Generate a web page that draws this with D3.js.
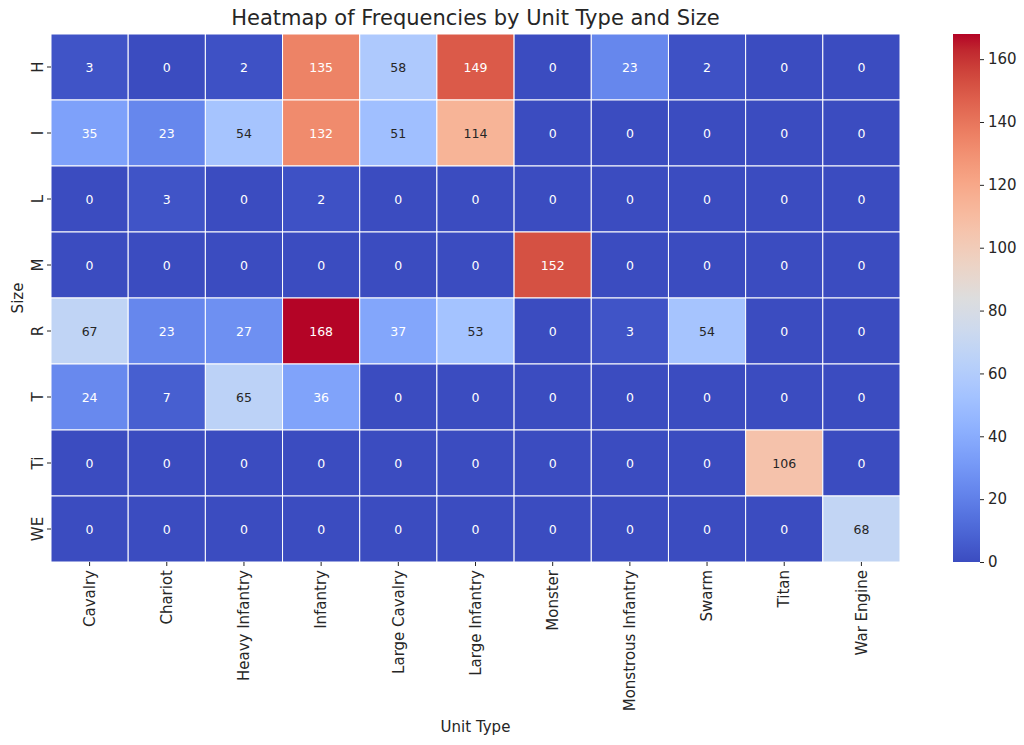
<!DOCTYPE html>
<html>
<head>
<meta charset="utf-8">
<script src="https://cdn.jsdelivr.net/npm/d3@7"></script>
<style>
  body { margin: 0; background: #fff; }
  svg text { font-family: "DejaVu Sans", sans-serif; fill: #262626; }
</style>
</head>
<body>
<svg id="chart" width="1024" height="745"></svg>
<script>
// data
const unitTypes = ["Cavalry", "Chariot", "Heavy Infantry", "Infantry", "Large Cavalry",
  "Large Infantry", "Monster", "Monstrous Infantry", "Swarm", "Titan", "War Engine"];
const sizes = ["H", "I", "L", "M", "R", "T", "Ti", "WE"];

const rowH  = [3, 0, 2, 135, 58, 149, 0, 23, 2, 0, 0];
const rowI  = [35, 23, 54, 132, 51, 114, 0, 0, 0, 0, 0];
const rowL  = [0, 3, 0, 2, 0, 0, 0, 0, 0, 0, 0];
const rowM  = [0, 0, 0, 0, 0, 0, 152, 0, 0, 0, 0];
const rowR  = [67, 23, 27, 168, 37, 53, 0, 3, 54, 0, 0];
const rowT  = [24, 7, 65, 36, 0, 0, 0, 0, 0, 0, 0];
const rowTi = [0, 0, 0, 0, 0, 0, 0, 0, 0, 106, 0];
const rowWE = [0, 0, 0, 0, 0, 0, 0, 0, 0, 0, 68];
const rows = [rowH, rowI, rowL, rowM, rowR, rowT, rowTi, rowWE];

const colorbarTicks = [0, 20, 40, 60, 80, 100, 120, 140, 160];

// coolwarm colormap (Moreland table)
const coolwarm = [
  [59,76,192],[68,90,204],[77,104,215],[87,117,225],[98,130,234],[108,142,241],
  [119,154,247],[130,165,251],[141,176,254],[152,185,255],[163,194,255],[174,201,253],
  [184,208,249],[194,213,244],[204,217,238],[213,219,230],[221,221,221],[229,216,209],
  [236,211,197],[241,204,185],[245,196,173],[247,187,160],[247,177,148],[247,166,135],
  [244,154,123],[241,141,111],[236,127,99],[229,112,88],[222,96,77],[213,80,66],
  [203,62,56],[192,40,47],[180,4,38]
];

const cells = [];
rows.forEach((r, i) => r.forEach((v, j) => cells.push({size: sizes[i], unit: unitTypes[j], value: v})));
const vmax = d3.max(cells, d => d.value);

const svg = d3.select("#chart");
const mLeft = 51, mRight = 900, mTop = 34, mBottom = 562;

const x = d3.scaleBand().domain(unitTypes).range([mLeft, mRight]);
const y = d3.scaleBand().domain(sizes).range([mTop, mBottom]);

const color = d3.scaleLinear()
  .domain(coolwarm.map((c, i) => vmax * i / (coolwarm.length - 1)))
  .range(coolwarm.map(c => `rgb(${c[0]},${c[1]},${c[2]})`))
  .interpolate(d3.interpolateRgb)
  .clamp(true);

function textColor(v) {
  const c = d3.rgb(color(v));
  const lin = ch => { ch /= 255; return ch <= 0.03928 ? ch / 12.92 : Math.pow((ch + 0.055) / 1.055, 2.4); };
  const lum = 0.2126 * lin(c.r) + 0.7152 * lin(c.g) + 0.0722 * lin(c.b);
  return lum > 0.408 ? "#262626" : "#ffffff";
}

svg.append("g").selectAll("rect")
  .data(cells)
  .enter()
  .append("rect")
  .attr("x", d => x(d.unit))
  .attr("y", d => y(d.size))
  .attr("width", x.bandwidth())
  .attr("height", y.bandwidth())
  .attr("fill", d => color(d.value))
  .attr("stroke", "#fff")
  .attr("stroke-width", 1);

svg.append("g").selectAll("text")
  .data(cells)
  .enter()
  .append("text")
  .attr("x", d => x(d.unit) + x.bandwidth() / 2)
  .attr("y", d => y(d.size) + y.bandwidth() / 2)
  .attr("text-anchor", "middle")
  .attr("dominant-baseline", "central")
  .style("font-size", "12.5px")
  .style("fill", d => textColor(d.value))
  .text(d => d.value);

// axes
const xAxis = svg.append("g")
  .attr("transform", `translate(0,${mBottom})`)
  .call(d3.axisBottom(x).tickSize(4).tickPadding(3));
xAxis.select(".domain").remove();
xAxis.selectAll(".tick line").attr("stroke", "#262626");
xAxis.selectAll(".tick text")
  .attr("transform", "rotate(-90)")
  .attr("x", -8).attr("y", 0).attr("dy", "0.35em")
  .attr("text-anchor", "end")
  .style("font-size", "15px")
  .style("fill", "#262626");

const yAxis = svg.append("g")
  .attr("transform", `translate(${mLeft},0)`)
  .call(d3.axisLeft(y).tickSize(4).tickPadding(3));
yAxis.select(".domain").remove();
yAxis.selectAll(".tick line").attr("stroke", "#262626");
yAxis.selectAll(".tick text")
  .attr("transform", "rotate(-90)")
  .attr("x", 0).attr("y", -13)
  .attr("dy", "0.35em")
  .attr("text-anchor", "middle")
  .style("font-size", "15px")
  .style("fill", "#262626");

svg.append("text")
  .attr("x", (mLeft + mRight) / 2).attr("y", 25)
  .attr("text-anchor", "middle")
  .style("font-size", "21px")
  .text("Heatmap of Frequencies by Unit Type and Size");

svg.append("text")
  .attr("x", (mLeft + mRight) / 2).attr("y", 732)
  .attr("text-anchor", "middle")
  .style("font-size", "15px")
  .text("Unit Type");

svg.append("text")
  .attr("transform", `translate(23,${(mTop + mBottom) / 2}) rotate(-90)`)
  .attr("text-anchor", "middle")
  .style("font-size", "15px")
  .text("Size");

// colorbar
const cbLeft = 953, cbWidth = 27;
const cbScale = d3.scaleLinear().domain([0, vmax]).range([mBottom, mTop]);
const defs = svg.append("defs");
const grad = defs.append("linearGradient").attr("id", "cbgrad")
  .attr("x1", "0").attr("y1", "1").attr("x2", "0").attr("y2", "0");
grad.selectAll("stop")
  .data(color.domain())
  .enter()
  .append("stop")
  .attr("offset", d => d / vmax)
  .attr("stop-color", d => color(d));

svg.append("rect")
  .attr("x", cbLeft).attr("y", mTop)
  .attr("width", cbWidth).attr("height", mBottom - mTop)
  .attr("fill", "url(#cbgrad)");

const cbAxis = svg.append("g")
  .attr("transform", `translate(${cbLeft + cbWidth},0)`)
  .call(d3.axisRight(cbScale).tickValues(colorbarTicks).tickSize(4).tickPadding(4));
cbAxis.select(".domain").remove();
cbAxis.selectAll(".tick line").attr("stroke", "#262626");
cbAxis.selectAll(".tick text").style("font-size", "15px").style("fill", "#262626");
</script>
</body>
</html>
